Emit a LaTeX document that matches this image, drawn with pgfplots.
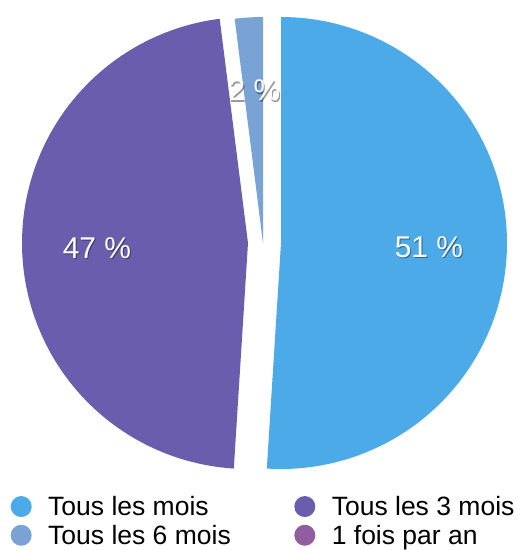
\documentclass[border=0pt]{standalone}
\usepackage{pgfplots}
\pgfplotsset{compat=1.18}
\usepackage{fontspec}
\setmainfont{Liberation Sans}
\definecolor{cA}{HTML}{4CAAE8}
\definecolor{cB}{HTML}{6B5DAD}
\definecolor{cC}{HTML}{79A3D5}
\definecolor{cD}{HTML}{925CA0}
% shares (percent)
\def\vA{51}\def\vB{47}\def\vC{2}\def\vD{0}
\pgfmathsetmacro\aAs{90-3.6*\vA}
\pgfmathsetmacro\aBs{\aAs-3.6*\vB}
\pgfmathsetmacro\aCs{\aBs-3.6*\vC}
\pgfmathsetmacro\aBe{\aAs+360}
\pgfmathsetmacro\aBst{\aBs+360}
\pgfmathsetmacro\aCst{\aCs+360}
\tikzset{lab/.style={text=white,font=\fontsize{30}{32}\selectfont},
  sh/.style={text=black,opacity=0.4,font=\fontsize{30}{32}\selectfont}}
\begin{document}
\begin{tikzpicture}
\begin{axis}[
  width=518pt,height=550pt,scale only axis,
  xmin=0,xmax=518,ymin=0,ymax=550,
  hide axis,clip=false,
  legend columns=2,
  legend image code/.code={\path[fill=none,draw=none] (0pt,-10.5pt) rectangle (35.5pt,10.5pt);\fill[#1] (10.5pt,0pt) circle (10.5pt);},
  legend style={at={(axis cs:10.5,56)},anchor=north west,draw=none,fill=none,
    inner sep=0pt,row sep=4pt,font=\fontsize{26.5}{30}\selectfont,
    /tikz/every even column/.append style={column sep=61.5pt}},
  legend cell align=left,
]
\path (axis cs:0,0) rectangle (axis cs:518,550);
\addplot[fill=cA,draw=none,domain=\aAs:90,samples=120,variable=\t]
  ({281+226*cos(t)},{307+226*sin(t)}) -- (axis cs:281,307) -- cycle;
\addlegendentry{Tous les mois}
\addplot[fill=cB,draw=none,domain=\aBst:\aBe,samples=120,variable=\t]
  ({248+226*cos(t)},{307+226*sin(t)}) -- (axis cs:248,307) -- cycle;
\addlegendentry{Tous les 3 mois}
\addplot[fill=cC,draw=none,domain=90:\aBst,samples=20,variable=\t]
  ({263+226*cos(t)},{307+226*sin(t)}) -- (axis cs:263,307) -- cycle;
\addlegendentry{Tous les 6 mois}
\addlegendimage{fill=cD,draw=none}
\addlegendentry{1 fois par an}
\node[sh] at (axis cs:430,301.5) {51 \%};
\node[lab] at (axis cs:429,303) {51 \%};
\node[sh] at (axis cs:98,300.5) {47 \%};
\node[lab] at (axis cs:97,302) {47 \%};
\node[sh] at (axis cs:255.5,458) {2 \%};
\node[lab] at (axis cs:254.5,459.5) {2 \%};
\end{axis}
\end{tikzpicture}
\end{document}
